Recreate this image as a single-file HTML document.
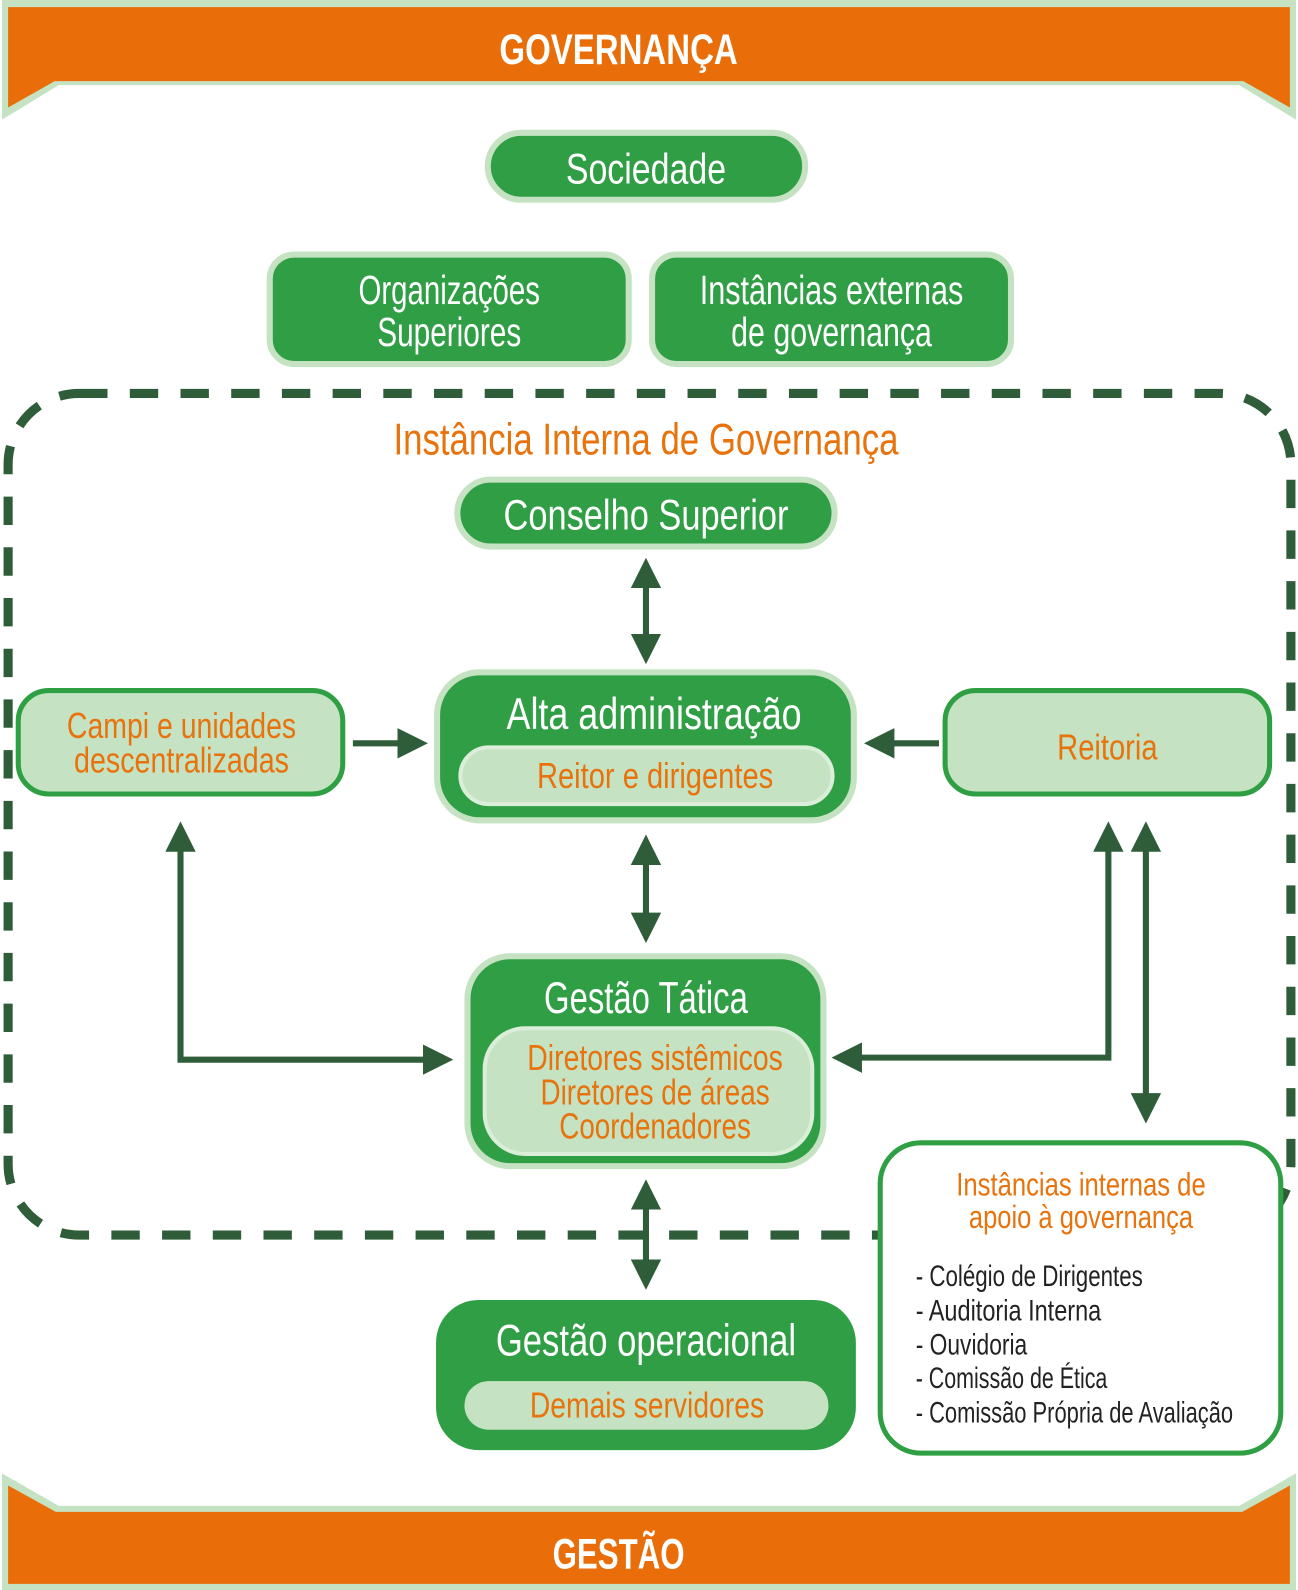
<!DOCTYPE html>
<html><head><meta charset="utf-8"><style>
html,body{margin:0;padding:0;background:#fff}
svg{display:block}
text{font-family:"Liberation Sans Narrow","Liberation Sans",sans-serif;text-anchor:middle}
.w{fill:#fff}.o{fill:#e8730d}.k{fill:#222;text-anchor:start}
</style></head><body>
<svg width="1298" height="1590" viewBox="0 0 1280 1568" preserveAspectRatio="none" xmlns="http://www.w3.org/2000/svg">
<defs>
<marker id="ah" markerWidth="5" markerHeight="5" refX="3.5" refY="2.5" orient="auto-start-reverse" markerUnits="strokeWidth"><path d="M0,0 L5,2.5 L0,5 Z" fill="#2f5d3a"/></marker>
</defs>
<path d="M2,0 H1278 V118 L1222,84 H58 L2,118 Z" fill="#c5e3c3"/>
<path d="M8,7 H1272 V106 L1226,80 H54 L8,106 Z" fill="#e96d08"/>
<text x="610" y="63" class="w" font-size="42" font-weight="bold" textLength="235" lengthAdjust="spacingAndGlyphs">GOVERNANÇA</text>
<path d="M2,1453 L58,1485 H1222 L1278,1453 V1568 H2 Z" fill="#c5e3c3"/>
<path d="M8,1465 L55,1491 H1225 L1272,1465 V1562 H8 Z" fill="#e96d08"/>
<text x="610" y="1547" class="w" font-size="42" font-weight="bold" textLength="130" lengthAdjust="spacingAndGlyphs">GESTÃO</text>
<rect x="8" y="388" width="1265" height="830" rx="70" fill="none" stroke="#2f5d3a" stroke-width="9" stroke-dasharray="28 22"/>
<rect x="868" y="1127" width="395" height="306" rx="40" fill="#fff" stroke="#2ea043" stroke-width="5"/>
<rect x="481" y="131" width="313" height="66" rx="33" fill="#2f9e44" stroke="#c5e3c3" stroke-width="6"/>
<text x="637" y="181" class="w" font-size="42" textLength="158" lengthAdjust="spacingAndGlyphs">Sociedade</text>
<rect x="266" y="251" width="354" height="108" rx="24" fill="#2f9e44" stroke="#c5e3c3" stroke-width="6"/>
<text x="443" y="300" class="w" font-size="40" textLength="179" lengthAdjust="spacingAndGlyphs">Organizações</text>
<text x="443" y="341" class="w" font-size="40" textLength="142" lengthAdjust="spacingAndGlyphs">Superiores</text>
<rect x="643" y="251" width="354" height="108" rx="24" fill="#2f9e44" stroke="#c5e3c3" stroke-width="6"/>
<text x="820" y="300" class="w" font-size="40" textLength="260" lengthAdjust="spacingAndGlyphs">Instâncias externas</text>
<text x="820" y="341" class="w" font-size="40" textLength="198" lengthAdjust="spacingAndGlyphs">de governança</text>
<text x="637" y="448" class="o" font-size="44" textLength="498" lengthAdjust="spacingAndGlyphs">Instância Interna de Governança</text>
<rect x="451" y="473" width="372" height="66" rx="33" fill="#2f9e44" stroke="#c5e3c3" stroke-width="6"/>
<text x="637" y="522" class="w" font-size="42" textLength="281" lengthAdjust="spacingAndGlyphs">Conselho Superior</text>
<rect x="431" y="663" width="411" height="146" rx="42" fill="#2f9e44" stroke="#c5e3c3" stroke-width="6"/>
<text x="645" y="719" class="w" font-size="44" textLength="291" lengthAdjust="spacingAndGlyphs">Alta administração</text>
<rect x="454" y="737" width="367" height="56" rx="28" fill="#c5e3c3" stroke="#daeeda" stroke-width="4"/>
<text x="646" y="777" class="o" font-size="36" textLength="233" lengthAdjust="spacingAndGlyphs">Reitor e dirigentes</text>
<rect x="18" y="681" width="320" height="102" rx="30" fill="#c5e3c3" stroke="#2ea043" stroke-width="5"/>
<text x="179" y="728" class="o" font-size="36" textLength="226" lengthAdjust="spacingAndGlyphs">Campi e unidades</text>
<text x="179" y="762" class="o" font-size="36" textLength="212" lengthAdjust="spacingAndGlyphs">descentralizadas</text>
<rect x="932" y="681" width="320" height="102" rx="30" fill="#c5e3c3" stroke="#2ea043" stroke-width="5"/>
<text x="1092" y="749" class="o" font-size="36" textLength="99" lengthAdjust="spacingAndGlyphs">Reitoria</text>
<rect x="461" y="943" width="351" height="207" rx="42" fill="#2f9e44" stroke="#c5e3c3" stroke-width="6"/>
<text x="637" y="999" class="w" font-size="44" textLength="201" lengthAdjust="spacingAndGlyphs">Gestão Tática</text>
<rect x="478" y="1014" width="323" height="124" rx="40" fill="#c5e3c3" stroke="#daeeda" stroke-width="4"/>
<text x="646" y="1055" class="o" font-size="36" textLength="252" lengthAdjust="spacingAndGlyphs">Diretores sistêmicos</text>
<text x="646" y="1089" class="o" font-size="36" textLength="226" lengthAdjust="spacingAndGlyphs">Diretores de áreas</text>
<text x="646" y="1123" class="o" font-size="36" textLength="189" lengthAdjust="spacingAndGlyphs">Coordenadores</text>
<rect x="430" y="1282" width="414" height="148" rx="42" fill="#2f9e44"/>
<text x="637" y="1337" class="w" font-size="44" textLength="296" lengthAdjust="spacingAndGlyphs">Gestão operacional</text>
<rect x="458" y="1362" width="359" height="48" rx="24" fill="#c5e3c3"/>
<text x="638" y="1398" class="o" font-size="36" textLength="231" lengthAdjust="spacingAndGlyphs">Demais servidores</text>
<text x="1066" y="1179" class="o" font-size="32" textLength="246" lengthAdjust="spacingAndGlyphs">Instâncias internas de</text>
<text x="1066" y="1211" class="o" font-size="32" textLength="221" lengthAdjust="spacingAndGlyphs">apoio à governança</text>
<text x="903" y="1268" class="k" font-size="29" textLength="224" lengthAdjust="spacingAndGlyphs">- Colégio de Dirigentes</text>
<text x="903" y="1302" class="k" font-size="29" textLength="183" lengthAdjust="spacingAndGlyphs">- Auditoria Interna</text>
<text x="903" y="1336" class="k" font-size="29" textLength="110" lengthAdjust="spacingAndGlyphs">- Ouvidoria</text>
<text x="903" y="1369" class="k" font-size="29" textLength="189" lengthAdjust="spacingAndGlyphs">- Comissão de Ética</text>
<text x="903" y="1403" class="k" font-size="29" textLength="313" lengthAdjust="spacingAndGlyphs">- Comissão Própria de Avaliação</text>
<g stroke="#2f5d3a" stroke-width="6" fill="none">
<line x1="637" y1="559" x2="637" y2="646" marker-start="url(#ah)" marker-end="url(#ah)"/>
<line x1="637" y1="832" x2="637" y2="921" marker-start="url(#ah)" marker-end="url(#ah)"/>
<line x1="637" y1="1172" x2="637" y2="1263" marker-start="url(#ah)" marker-end="url(#ah)"/>
<line x1="348" y1="733" x2="413" y2="733" marker-end="url(#ah)"/>
<line x1="926" y1="733" x2="861" y2="733" marker-end="url(#ah)"/>
<polyline points="438,1045 178,1045 178,819" marker-start="url(#ah)" marker-end="url(#ah)"/>
<polyline points="829,1043 1093,1043 1093,819" marker-start="url(#ah)" marker-end="url(#ah)"/>
<line x1="1130" y1="819" x2="1130" y2="1099" marker-start="url(#ah)" marker-end="url(#ah)"/>
</g>
</svg>
</body></html>
